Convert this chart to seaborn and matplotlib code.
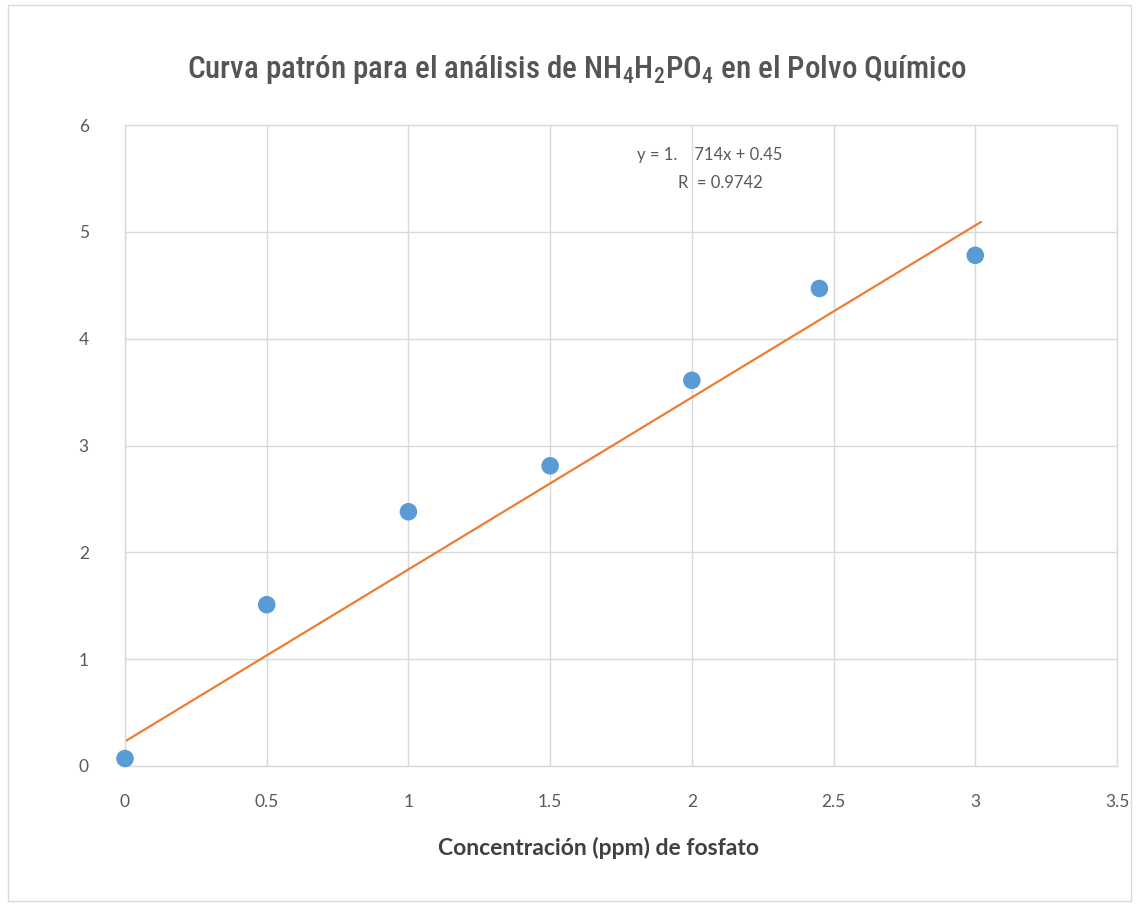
import matplotlib
matplotlib.use('Agg')
import matplotlib.pyplot as plt
from matplotlib.patches import Rectangle
import seaborn as sns
import numpy as np
import pandas as pd

# ---- data ----
conc = [0.0, 0.5, 1.0, 1.5, 2.0, 2.45, 3.0]
signal = [0.07, 1.51, 2.38, 2.81, 3.61, 4.47, 4.78]
trend_slope = 1.61
trend_intercept = 0.23
trend_x = [0.0, 3.02]
x_ticks = [0, 0.5, 1, 1.5, 2, 2.5, 3, 3.5]
x_tick_labels = ['0', '0.5', '1', '1.5', '2', '2.5', '3', '3.5']
y_ticks = [0, 1, 2, 3, 4, 5, 6]
y_tick_labels = ['0', '1', '2', '3', '4', '5', '6']
title = ('Curva patrón para el análisis de NH$\\mathregular{_4}$H$\\mathregular{_2}$'
         'PO$\\mathregular{_4}$ en el Polvo Químico')
x_label = 'Concentración (ppm) de fosfato'
eq_line1 = 'y = 1.    714x + 0.45'
eq_line2 = 'R  = 0.9742'

sns.set_theme(style='white')
plt.rcParams['font.family'] = ['Lato', 'DejaVu Sans']

fig = plt.figure(figsize=(11.38, 9.07), dpi=100)
ax = fig.add_axes([125 / 1138, 1 - 766 / 907, 992 / 1138, 641 / 907])

df = pd.DataFrame({'conc': conc, 'signal': signal})
tx = np.array(trend_x)
trend_df = pd.DataFrame({'x': tx, 'y': trend_intercept + trend_slope * tx})

sns.lineplot(data=trend_df, x='x', y='y', ax=ax, color='#ED7D31', linewidth=1.6, zorder=2)
sns.scatterplot(data=df, x='conc', y='signal', ax=ax, s=160, color='#5B9BD5',
                edgecolor='none', zorder=3)
for coll in ax.collections:
    coll.set_clip_on(False)

ax.set_xlim(0, 3.5)
ax.set_ylim(0, 6)
ax.set_xticks(x_ticks)
ax.set_xticklabels(x_tick_labels)
ax.set_yticks(y_ticks)
ax.set_yticklabels(y_tick_labels)
ax.grid(True, color='#D9D9D9', linewidth=1.0)
ax.set_axisbelow(True)
for sp in ax.spines.values():
    sp.set_color('#D9D9D9')
    sp.set_linewidth(1.0)
ax.tick_params(axis='both', length=0, colors='#595959', labelsize=12.5)
ax.tick_params(axis='x', pad=20)
ax.tick_params(axis='y', pad=26)
ax.set_ylabel('')
ax.set_xlabel(x_label, fontweight='bold', color='#404040', fontsize=16.5)
ax.xaxis.set_label_coords((598 - 125) / 992, (766 - 848) / 641)
ax.xaxis.label.set_va('center')

fig.text(577 / 1138, 1 - 70 / 907, title, ha='center', va='center', fontsize=22.3,
         fontweight='medium', color='#555555',
         family=['Roboto Condensed', 'Liberation Sans', 'DejaVu Sans'])

fig.text(637 / 1138, 1 - 155 / 907, eq_line1, ha='left', va='center', fontsize=12, color='#595959')
fig.text(678 / 1138, 1 - 183 / 907, eq_line2, ha='left', va='center', fontsize=12, color='#595959')

fig.add_artist(Rectangle((8 / 1138, 1 - 901 / 907), (1131 - 8) / 1138, (901 - 5) / 907,
                         transform=fig.transFigure, fill=False, edgecolor='#D9D9D9', linewidth=1.0))

fig.savefig('out.png', dpi=100)
